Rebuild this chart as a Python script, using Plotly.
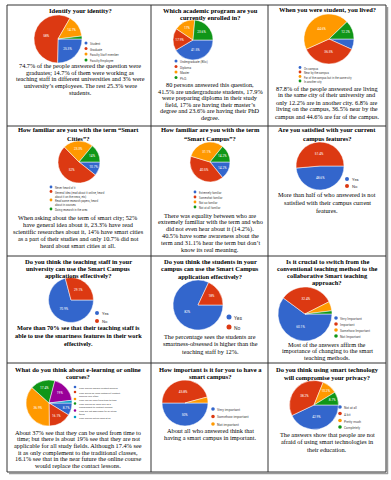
import plotly.graph_objects as go

W, H = 391, 480

BLUE, RED, ORANGE, GREEN, PURPLE, CYAN = "#3366cc", "#dc3912", "#ff9900", "#109618", "#990099", "#0099c6"
PALETTE = [BLUE, RED, ORANGE, GREEN, PURPLE, CYAN]
SERIF = "Liberation Serif, Times New Roman, serif"
SANS = "Roboto, Arial, sans-serif"

# ---- data ----
identity_labels = ["Student", "Graduate", "Faculty Staff member", "Faculty Employee"]
identity_values = [25.3, 58, 14.7, 2]

program_labels = ["Undergraduate (BSc)", "Diploma", "Master", "Ph.D."]
program_values = [41.5, 17.9, 17, 23.6]

lived_labels = ["On campus", "Near by the campus", "Far of the campus but in the same city", "In another city"]
lived_values = [6.8, 36.5, 44.6, 12.2]

cities_labels = ["Never heard of it",
                 "General idea (read about it online, heard<br>about it on the news, etc)",
                 "Read some research papers, heard<br>about in courses",
                 "Doing research in the area"]
cities_values = [10.7, 52, 23.3, 14]

campus_term_labels = ["Extremely familiar", "Somewhat familiar", "Not so familiar", "Not at all familiar"]
campus_term_values = [14.2, 40.5, 31.1, 14.2]

satisfied_labels = ["Yes", "No"]
satisfied_values = [48.6, 51.4]

staff_labels = ["Yes", "No"]
staff_values = [70.9, 29.1]

students_labels = ["Yes", "No"]
students_values = [82, 18]

switch_labels = ["Very Important", "Important", "Somehow Important", "Not Important"]
switch_values = [60.1, 32.4, 5.6, 1.9]

elearning_labels = ["They should replace contact lessons",
                    "They would be used instead of contact<br>lessons very often",
                    "They can be used from time to time",
                    "They should be used only as a<br>complement to contact lessons",
                    "They are not applicable for all study<br>fields",
                    "They should not be used at all"]
elearning_values = [8.7, 16.1, 36.9, 17.4, 19.0, 1.9]

importance_labels = ["Very important", "Somehow important", "Not important"]
importance_values = [50, 45.8, 4.2]

privacy_labels = ["Not at all", "A bit", "Pretty much", "Completely"]
privacy_values = [42.9, 38.2, 10.2, 8.7]

# ---- texts ----
identity_title = ["Identify your identity?"]
identity_note = ["74.7% of the people answered the question were",
                 "graduates; 14.7% of them were working as",
                 "teaching staff in different universities and 3% were",
                 "university\u2019s employees. The rest 25.3% were",
                 "students."]
program_title = ["Which academic program are you", "currently enrolled in?"]
program_note = ["80 persons answered this question,",
                "41.5% are undergraduate students, 17.9%",
                "were preparing diploma in their study",
                "field, 17% are having their master\u2019s",
                "degree and 23.6% are having their PhD",
                "degree."]
lived_title = ["When you were student, you lived?"]
lived_note = ["87.8% of the people answered are living",
              "in the same city of their university and",
              "only 12.2% are in another city. 6.8% are",
              "living on the campus, 36.5% near by the",
              "campus and 44.6% are far of the campus."]
cities_title = ["How familiar are you with the term \u201cSmart", "Cities\u201d?"]
cities_note = ["When asking about the term of smart city; 52%",
               "have general idea about it, 23.3% have read",
               "scientific researches about it, 14% have smart cities",
               "as a part of their studies and only 10.7% did not",
               "heard about smart cities at all."]
campus_term_title = ["How familiar are you with the term", "\u201cSmart Campus\u201d?"]
campus_term_note = ["There was equality between who are",
                    "extremely familiar with the term and who",
                    "did not even hear about it (14.2%).",
                    "40.5% have some awareness about the",
                    "term and 31.1% hear the term but don\u2019t",
                    "know its real meaning."]
satisfied_title = ["Are you satisfied with your current", "campus features?"]
satisfied_note = ["More than half of who answered is not",
                  "satisfied with their campus current",
                  "features."]
staff_title = ["Do you think the teaching staff in your", "university can use the Smart Campus",
               "applications effectively?"]
staff_note = ["More than 70% see that their teaching staff is",
              "able to use the smartness features in their work",
              "effectively."]
students_title = ["Do you think the students in your", "campus can use the Smart Campus",
                  "application effectively?"]
students_note = ["The percentage sees the students are",
                 "smartness-obsessed is higher than the",
                 "teaching staff by 12%."]
switch_title = ["Is it crucial to switch from the", "conventional teaching method to the",
                "collaborative Smart teaching", "approach?"]
switch_note = ["Most of the answers affirm the",
               "importance of changing to the smart",
               "teaching methods."]
elearning_title = ["What do you think about e-learning or online", "courses?"]
elearning_note = ["About 37% see that they can be used from time to",
                  "time; but there is about 19% see that they are not",
                  "applicable for all study fields. Although 17.4% see",
                  "it as only complement to the traditional classes,",
                  "16.1% see that in the near future the online course",
                  "would replace the contact lessons."]
importance_title = ["How important is it for you to have a", "smart campus?"]
importance_note = ["About all who answered think that",
                   "having a smart campus in important."]
privacy_title = ["Do you think using smart technology", "will compromise your privacy?"]
privacy_note = ["The answers show that people are not",
                "afraid of using smart technologies in",
                "their education."]

# ---- layout of each table cell (pixel positions) ----
cells = [
    dict(labels=identity_labels, values=identity_values, title=identity_title, note=identity_note,
         cx=80, title_y=[10], pie=(58, 39, 24), leg_x=86, leg_rows=[43, 48.5, 54, 60], leg_font=3,
         dot=1.5, note_y=66, note_dy=6.5),
    dict(labels=program_labels, values=program_values, title=program_title, note=program_note,
         cx=210, title_y=[10, 18], pie=(193, 40, 20), leg_x=176, leg_rows=[61, 66.5, 72, 77.5], leg_font=3,
         dot=1.5, note_y=84.5, note_dy=6.5),
    dict(labels=lived_labels, values=lived_values, title=lived_title, note=lived_note,
         cx=327, title_y=[9], pie=(329, 39, 25), leg_x=300, leg_rows=[67.5, 72, 76.5, 81], leg_font=2.8,
         dot=1.4, note_y=88, note_dy=7),
    dict(labels=cities_labels, values=cities_values, title=cities_title, note=cities_note,
         cx=78, title_y=[130, 138], pie=(79, 162, 21), leg_x=51, leg_rows=[187, 191.5, 200, 209], leg_font=2.8,
         dot=1.4, note_y=218, note_dy=6.8),
    dict(labels=campus_term_labels, values=campus_term_values, title=campus_term_title, note=campus_term_note,
         cx=210, title_y=[130, 138], pie=(210, 162, 20), leg_x=195, leg_rows=[192, 197, 202, 207], leg_font=2.8,
         dot=1.4, note_y=215, note_dy=6.8),
    dict(labels=satisfied_labels, values=satisfied_values, title=satisfied_title, note=satisfied_note,
         cx=327, title_y=[130, 138], pie=(320, 166, 24), leg_x=347, leg_rows=[179, 186], leg_font=4.2,
         dot=2, note_y=194, note_dy=8),
    dict(labels=staff_labels, values=staff_values, title=staff_title, note=staff_note, bold_note=True,
         cx=78, title_y=[261, 268, 275], pie=(71, 300, 22.5), leg_x=97, leg_rows=[313, 321], leg_font=4.2,
         dot=2, note_y=327, note_dy=8),
    dict(labels=students_labels, values=students_values, title=students_title, note=students_note,
         cx=210, title_y=[261, 268.5, 276], pie=(198, 305, 25), leg_x=229, leg_rows=[317, 327], leg_font=5,
         dot=2.5, note_y=336, note_dy=7.5),
    dict(labels=switch_labels, values=switch_values, title=switch_title, note=switch_note,
         cx=327, title_y=[261, 268.5, 275.5, 282.5], pie=(305, 314, 27), leg_x=336,
         leg_rows=[318, 324, 330, 336], leg_font=3.3, dot=1.8, note_y=344, note_dy=6.8),
    dict(labels=elearning_labels, values=elearning_values, title=elearning_title, note=elearning_note,
         cx=78, title_y=[369, 376.5], pie=(49, 403, 23), leg_x=75,
         leg_rows=[387, 392, 399, 403.5, 410.5, 417], leg_font=2.4, dot=1.3, note_y=432, note_dy=6.7),
    dict(labels=importance_labels, values=importance_values, title=importance_title, note=importance_note,
         cx=210, title_y=[369, 376.5], pie=(185, 403, 23), leg_x=213, leg_rows=[409, 416.5, 424], leg_font=3.5,
         dot=1.8, note_y=430, note_dy=7.7),
    dict(labels=privacy_labels, values=privacy_values, title=privacy_title, note=privacy_note,
         cx=327, title_y=[369.5, 377], pie=(314, 405, 24.5), leg_x=340, leg_rows=[407, 413.5, 420.5, 427],
         leg_font=3.2, dot=1.8, note_y=434, note_dy=7.5),
]

GRID_X = [7, 151, 268, 386]
GRID_Y = [5, 126, 256, 363, 472]
TITLE_SIZE = 6.5
NOTE_SIZE = 6.3


def px(x):
    return x / W


def py(y):
    return 1 - y / H


fig = go.Figure()
annotations = []
shapes = []

for c in cells:
    cx, cy, r = c["pie"]
    n = len(c["values"])
    fig.add_trace(go.Pie(
        labels=c["labels"],
        values=c["values"],
        sort=False,
        direction="clockwise",
        rotation=90,
        marker=dict(colors=PALETTE[:n], line=dict(color="white", width=0.5)),
        text=[f"{v:g}%" if v >= 7 else "" for v in c["values"]],
        textinfo="text",
        textposition="inside",
        insidetextorientation="horizontal",
        textfont=dict(size=3.2, color="white", family=SANS),
        domain=dict(x=[px(cx - r), px(cx + r)], y=[py(cy + r), py(cy - r)]),
        hoverinfo="skip",
        showlegend=False,
    ))

    # title lines
    for line, ty in zip(c["title"], c["title_y"]):
        annotations.append(dict(x=px(c["cx"]), y=py(ty), text=f"<b>{line}</b>", showarrow=False,
                                xanchor="center", yanchor="middle", borderpad=0,
                                font=dict(family=SERIF, size=TITLE_SIZE, color="black")))

    # hand-drawn legend (dots + labels)
    for lab, col, ry in zip(c["labels"], PALETTE, c["leg_rows"]):
        d = c["dot"]
        shapes.append(dict(type="circle", xref="paper", yref="paper",
                           x0=px(c["leg_x"] - d), x1=px(c["leg_x"] + d),
                           y0=py(ry + d), y1=py(ry - d),
                           fillcolor=col, line=dict(width=0)))
        annotations.append(dict(x=px(c["leg_x"] + d + 1.5), y=py(ry - c["leg_font"] * 0.62), text=lab,
                                showarrow=False, xanchor="left", yanchor="top", align="left", borderpad=0,
                                font=dict(family=SANS, size=c["leg_font"], color="#444444")))

    # description lines
    for i, line in enumerate(c["note"]):
        txt = f"<b>{line}</b>" if c.get("bold_note") else line
        annotations.append(dict(x=px(c["cx"]), y=py(c["note_y"] + i * c["note_dy"]), text=txt,
                                showarrow=False, xanchor="center", yanchor="middle", borderpad=0,
                                font=dict(family=SERIF, size=NOTE_SIZE, color="black")))

# table shadow + grid
shapes.append(dict(type="line", xref="paper", yref="paper", x0=px(GRID_X[0] + 2), x1=px(GRID_X[-1] + 2),
                   y0=py(GRID_Y[-1] + 1.5), y1=py(GRID_Y[-1] + 1.5), line=dict(color="#9a9a9a", width=1.5)))
shapes.append(dict(type="line", xref="paper", yref="paper", x0=px(GRID_X[-1] + 1.5), x1=px(GRID_X[-1] + 1.5),
                   y0=py(GRID_Y[0] + 2), y1=py(GRID_Y[-1] + 2), line=dict(color="#9a9a9a", width=1.5)))
for gx in GRID_X:
    shapes.append(dict(type="line", xref="paper", yref="paper", x0=px(gx), x1=px(gx),
                       y0=py(GRID_Y[0]), y1=py(GRID_Y[-1]), line=dict(color="#333333", width=1)))
for gy in GRID_Y:
    shapes.append(dict(type="line", xref="paper", yref="paper", x0=px(GRID_X[0]), x1=px(GRID_X[-1]),
                       y0=py(gy), y1=py(gy), line=dict(color="#333333", width=1)))

fig.update_layout(
    width=W,
    height=H,
    margin=dict(l=0, r=0, t=0, b=0),
    paper_bgcolor="white",
    plot_bgcolor="white",
    showlegend=False,
    annotations=annotations,
    shapes=shapes,
)

# the page's default body margin would shift the 391x480 figure
fig.write_html("out.html", config={"displayModeBar": False},
               post_script="document.body.style.margin='0';")
